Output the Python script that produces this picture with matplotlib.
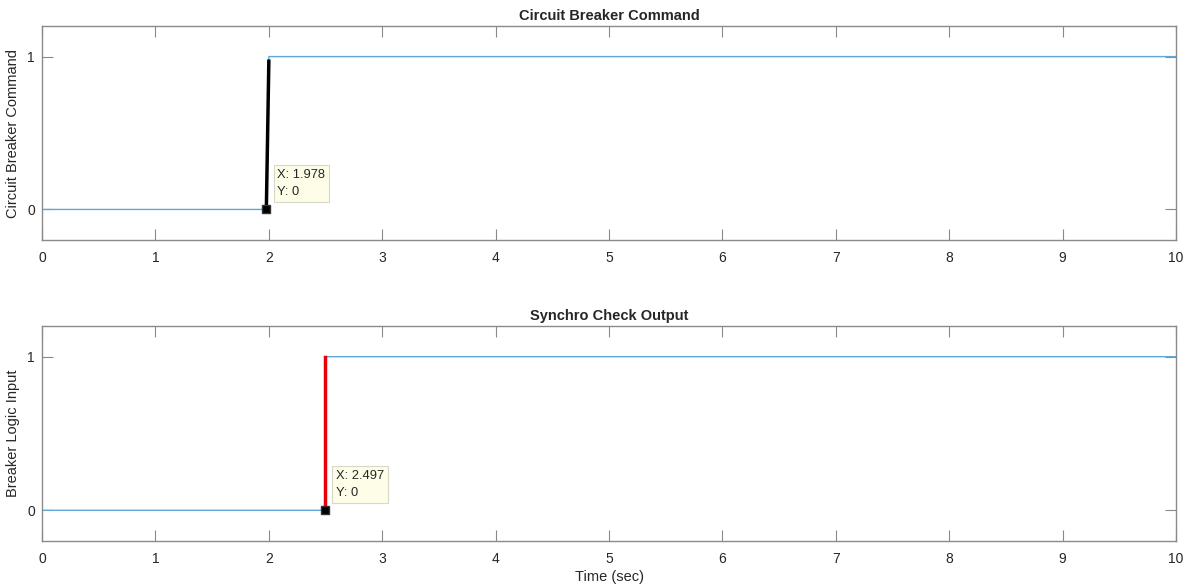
import matplotlib
matplotlib.use('Agg')
import matplotlib.pyplot as plt

plt.rcParams['font.family'] = ['Liberation Sans', 'DejaVu Sans']

# data
t_cmd = [0, 1.978, 2.0, 10]
y_cmd = [0, 0, 1, 1]
cursor_cmd = (1.978, 0)
jump_cmd = [(1.978, 0), (2.0, 0.97)]

t_sync = [0, 2.497, 2.503, 10]
y_sync = [0, 0, 1, 1]
cursor_sync = (2.497, 0)
jump_sync = [(2.497, 0), (2.497, 1.0)]

titles = ['Circuit Breaker Command', 'Synchro Check Output']
ylabels = ['Circuit Breaker Command', 'Breaker Logic Input']
xticks = list(range(0, 11))
yticks = [0, 1]

axcol = '#8a8a8a'
txtcol = '#262626'
blue = '#5fa8dc'

fig = plt.figure(figsize=(11.94, 5.86), dpi=100)
ax1 = fig.add_axes([0.0352, 0.5904, 0.9498, 0.3652])
ax2 = fig.add_axes([0.0352, 0.0768, 0.9498, 0.3669])

panels = [
    (ax1, t_cmd, y_cmd, jump_cmd, 'black', cursor_cmd),
    (ax2, t_sync, y_sync, jump_sync, '#e8000b', cursor_sync),
]

for i, (ax, t, y, jump, jcol, cur) in enumerate(panels):
    ax.plot(t, y, color=blue, lw=1.0)
    ax.plot([p[0] for p in jump], [p[1] for p in jump], color=jcol, lw=2.5)
    ax.plot(cur[0], cur[1], marker='s', ms=6, color='black', mec='#333333')
    ax.annotate('X: %.3f\nY: %d' % cur, xy=cur, xytext=(8, 8),
                textcoords='offset points', ha='left', va='bottom',
                fontsize=9.3, color=txtcol, linespacing=1.6,
                bbox=dict(boxstyle='square,pad=0.3', fc='#fdfde8', ec='#d8d8c8', lw=0.8))
    ax.set_xlim(0, 10)
    ax.set_ylim(-0.2, 1.2)
    ax.set_xticks(xticks)
    ax.set_yticks(yticks)
    ax.tick_params(direction='in', length=8, width=0.8, color=axcol,
                   labelcolor=txtcol, labelsize=10, top=True, right=True)
    ax.tick_params(axis='x', pad=8)
    ax.tick_params(axis='y', pad=5)
    for s in ax.spines.values():
        s.set_color(axcol)
        s.set_linewidth(1.0)
    ax.set_title(titles[i], fontsize=10.5, fontweight='bold', color=txtcol, pad=4)
    ax.set_ylabel(ylabels[i], fontsize=10.5, color=txtcol, labelpad=5)

ax2.set_xlabel('Time (sec)', fontsize=10.5, color=txtcol, labelpad=3)

fig.savefig('out.png', dpi=100)
